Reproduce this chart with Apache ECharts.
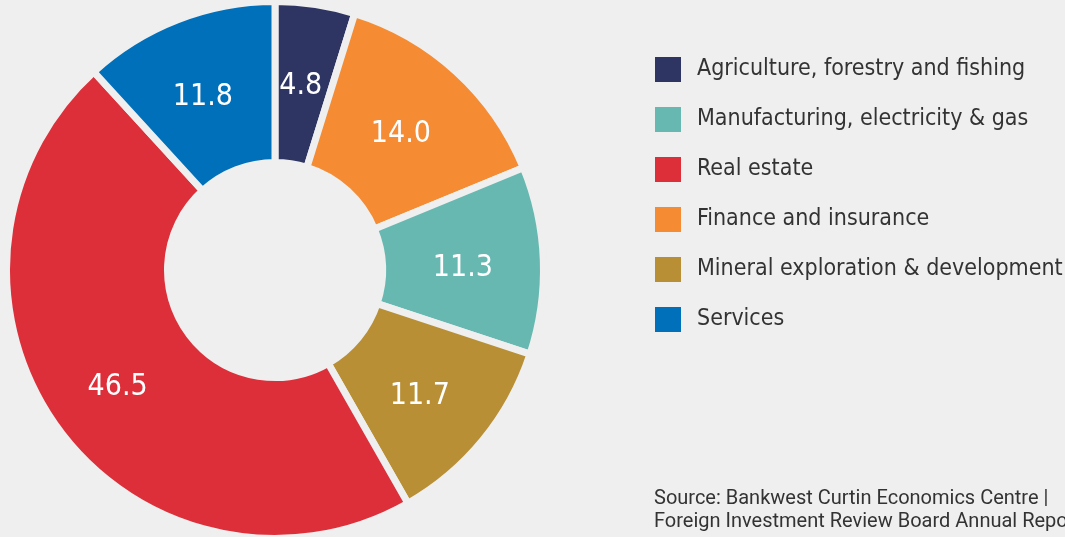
<!DOCTYPE html>
<html>
<head>
<meta charset="utf-8">
<style>
  html, body { margin: 0; padding: 0; background: #eeefee; }
  #chart { width: 1065px; height: 537px; }
</style>
<script src="https://cdn.jsdelivr.net/npm/echarts@6/dist/echarts.min.js"></script>
</head>
<body>
<div id="chart"></div>
<script>
// Industry shares, in clockwise order from 12 o'clock
const sectors = [
  'Agriculture, forestry and fishing',
  'Finance and insurance',
  'Manufacturing, electricity & gas',
  'Mineral exploration & development',
  'Real estate',
  'Services'
];
const shares = [4.8, 14.0, 11.3, 11.7, 46.5, 11.8];
const sectorColors = ['#2e3563', '#f58b33', '#67b8b1', '#b98f35', '#dc2f3a', '#0070bb'];

// Legend lists the sectors in its own order
const legendOrder = [
  'Agriculture, forestry and fishing',
  'Manufacturing, electricity & gas',
  'Real estate',
  'Finance and insurance',
  'Mineral exploration & development',
  'Services'
];

const sourceLines = [
  'Source: Bankwest Curtin Economics Centre |',
  'Foreign Investment Review Board Annual Report'
];

const BG = '#eeefee';
const condensed = '"DejaVu Sans Condensed", "Liberation Sans Narrow", "Roboto Condensed", Roboto, sans-serif';

const chart = echarts.init(document.getElementById('chart'), null, { renderer: 'canvas' });

chart.setOption({
  backgroundColor: BG,
  animation: false,
  legend: {
    orient: 'vertical',
    left: 653,
    top: 55,
    padding: 0,
    data: legendOrder,
    icon: 'rect',
    itemWidth: 28,
    itemHeight: 27,
    itemGap: 21,
    selectedMode: false,
    textStyle: {
      fontFamily: condensed,
      fontSize: 23,
      lineHeight: 27,
      color: '#333333',
      padding: [0, 0, 0, 10]
    }
  },
  graphic: [{
    type: 'text',
    left: 654,
    top: 487,
    style: {
      text: sourceLines.join('\n'),
      font: '20px Roboto, sans-serif',
      lineHeight: 23,
      fill: '#333333'
    }
  }],
  series: [{
    type: 'pie',
    center: [275, 270],
    radius: [107.5, 268.5],
    startAngle: 90,
    clockwise: true,
    avoidLabelOverlap: false,
    color: sectorColors,
    itemStyle: { borderColor: BG, borderWidth: 7 },
    label: {
      show: true,
      position: 'inside',
      formatter: p => p.value.toFixed(1),
      color: '#ffffff',
      fontFamily: condensed,
      fontSize: 30,
      offset: [-3, 5]
    },
    labelLine: { show: false },
    emphasis: { disabled: true },
    data: sectors.map((name, i) => ({ name, value: shares[i] }))
  }]
});
</script>
</body>
</html>
